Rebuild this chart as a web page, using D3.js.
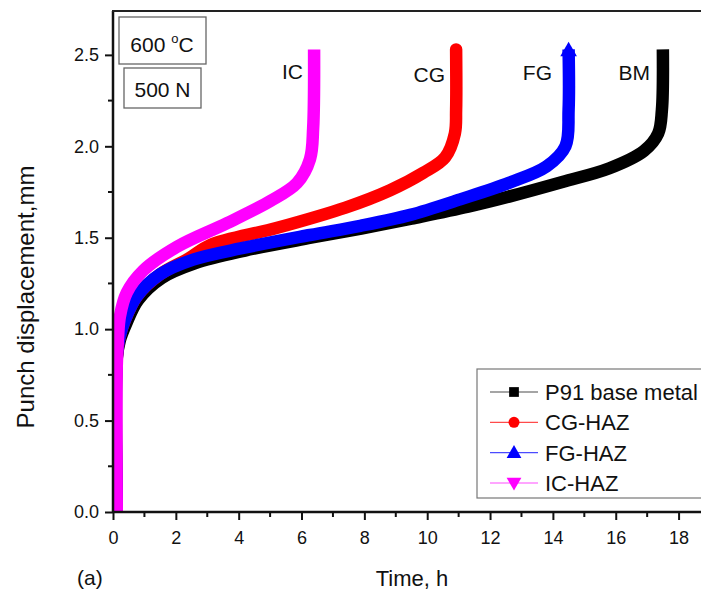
<!DOCTYPE html>
<html>
<head>
<meta charset="utf-8">
<script src="https://cdn.jsdelivr.net/npm/d3@7"></script>
<style>
  body { margin: 0; background: #fff; }
  text { font-family: "Liberation Sans", Arial, sans-serif; fill: #111; }
</style>
</head>
<body>
<svg width="701" height="590"></svg>
<script>
// series data (time in h, punch displacement in mm)
const bmTime = [0.12, 0.12, 0.22, 0.42, 0.8, 1.55, 2.6, 4.2, 6.3, 7.9, 9.5, 11.3, 12.6, 14.3, 15.8, 16.9, 17.35, 17.47, 17.5];
const bmDisp = [0.0, 0.84, 0.94, 1.03, 1.16, 1.28, 1.36, 1.43, 1.50, 1.55, 1.605, 1.67, 1.725, 1.805, 1.88, 1.975, 2.07, 2.2, 2.53];

const cgTime = [0.12, 0.12, 0.2, 0.38, 0.76, 1.5, 2.4, 3.1, 5.2, 7.4, 8.82, 9.87, 10.57, 10.88, 10.92, 10.92];
const cgDisp = [0.0, 0.85, 0.95, 1.05, 1.18, 1.30, 1.385, 1.46, 1.553, 1.665, 1.76, 1.855, 1.94, 2.07, 2.2, 2.53];

const fgTime = [0.12, 0.12, 0.2, 0.38, 0.76, 1.5, 2.55, 4.14, 6.27, 7.87, 9.46, 11.05, 12.6, 13.8, 14.4, 14.5, 14.5];
const fgDisp = [0.0, 0.85, 0.95, 1.05, 1.18, 1.30, 1.38, 1.444, 1.515, 1.565, 1.625, 1.71, 1.80, 1.89, 2.0, 2.2, 2.53];

const icTime = [0.12, 0.12, 0.16, 0.22, 0.44, 0.96, 2.03, 3.63, 5.0, 5.86, 6.27, 6.37, 6.4];
const icDisp = [0.0, 0.8, 0.95, 1.07, 1.20, 1.32, 1.45, 1.58, 1.70, 1.80, 1.93, 2.1, 2.53];

const seriesNames = ["P91 base metal", "CG-HAZ", "FG-HAZ", "IC-HAZ"];
const curveLabels = ["BM", "CG", "FG", "IC"];
const colors = ["#000000", "#ff0000", "#0000ff", "#ff00ff"];
const symbols = [d3.symbolSquare, d3.symbolCircle, d3.symbolTriangle, d3.symbolTriangle];

const xTicks = [0, 2, 4, 6, 8, 10, 12, 14, 16, 18];
const yTicks = [0.0, 0.5, 1.0, 1.5, 2.0, 2.5];

const series = [
  { name: seriesNames[0], t: bmTime, d: bmDisp },
  { name: seriesNames[1], t: cgTime, d: cgDisp },
  { name: seriesNames[2], t: fgTime, d: fgDisp },
  { name: seriesNames[3], t: icTime, d: icDisp }
];

const svg = d3.select("svg");

const x = d3.scaleLinear().domain([0, 19]).range([113, 710]);
const y = d3.scaleLinear().domain([0, 2.74]).range([512, 11]);

// clip to plot area
svg.append("clipPath").attr("id", "clip")
  .append("rect").attr("x", 113).attr("y", 11).attr("width", 597).attr("height", 501);

// curves
const line = d3.line()
  .x(p => x(p[0]))
  .y(p => y(p[1]))
  .curve(d3.curveCatmullRom.alpha(0.5));

const curves = svg.append("g").attr("clip-path", "url(#clip)");
series.forEach((s, i) => {
  const pts = s.t.map((t, j) => [t, s.d[j]]);
  curves.append("path")
    .attr("d", line(pts))
    .attr("fill", "none")
    .attr("stroke", colors[i])
    .attr("stroke-width", 12.5)
    .attr("stroke-linejoin", "round")
    .attr("stroke-linecap", i === 1 ? "round" : "butt");
  // blue curve ends in its triangle marker
  if (i === 2) {
    const last = pts[pts.length - 1];
    curves.append("path")
      .attr("d", d3.symbol().type(symbols[i]).size(120)())
      .attr("transform", `translate(${x(last[0])},${y(last[1]) + 2})`)
      .attr("fill", colors[i]);
  }
});

// axes
const xAxis = d3.axisBottom(x).tickValues(xTicks).tickFormat(d3.format("d"))
  .tickSize(8).tickPadding(11);
const gx = svg.append("g").attr("transform", "translate(0,512)").call(xAxis);
gx.select(".domain").remove();
gx.selectAll(".tick line").attr("stroke", "#111").attr("stroke-width", 2);
gx.selectAll("text").style("font-size", "18px");
gx.selectAll(".minor").data(d3.range(1, 19, 2)).enter().append("line")
  .attr("x1", d => x(d)).attr("x2", d => x(d)).attr("y1", 0).attr("y2", 5)
  .attr("stroke", "#111").attr("stroke-width", 2);

const yAxis = d3.axisLeft(y).tickValues(yTicks).tickFormat(d3.format(".1f"))
  .tickSize(8).tickPadding(6);
const gy = svg.append("g").attr("transform", "translate(113,0)").call(yAxis);
gy.select(".domain").remove();
gy.selectAll(".tick line").attr("stroke", "#111").attr("stroke-width", 2);
gy.selectAll("text").style("font-size", "18px");
gy.selectAll(".minor").data([0.25, 0.75, 1.25, 1.75, 2.25]).enter().append("line")
  .attr("x1", 0).attr("x2", -5).attr("y1", d => y(d)).attr("y2", d => y(d))
  .attr("stroke", "#111").attr("stroke-width", 2);

// frame lines
svg.append("line").attr("x1", 113).attr("x2", 701).attr("y1", 512).attr("y2", 512)
  .attr("stroke", "#111").attr("stroke-width", 2.5);
svg.append("line").attr("x1", 113).attr("x2", 113).attr("y1", 11).attr("y2", 513)
  .attr("stroke", "#111").attr("stroke-width", 2.5);
svg.append("line").attr("x1", 112).attr("x2", 701).attr("y1", 11).attr("y2", 11)
  .attr("stroke", "#222").attr("stroke-width", 2);

// axis titles
svg.append("text").attr("x", 412).attr("y", 586).attr("text-anchor", "middle")
  .style("font-size", "22px").text("Time, h");
svg.append("text").attr("transform", "translate(34,297) rotate(-90)").attr("text-anchor", "middle")
  .style("font-size", "24px").text("Punch displacement,mm");
svg.append("text").attr("x", 77).attr("y", 585).style("font-size", "21px").text("(a)");

// condition boxes
svg.append("rect").attr("x", 119).attr("y", 17).attr("width", 87).attr("height", 47)
  .attr("fill", "#fff").attr("stroke", "#666").attr("stroke-width", 1.3);
const t1 = svg.append("text").attr("x", 162).attr("y", 52).attr("text-anchor", "middle")
  .style("font-size", "21px");
t1.append("tspan").text("600 ");
t1.append("tspan").attr("dy", -9).style("font-size", "13px").text("o");
t1.append("tspan").attr("dy", 9).text("C");
svg.append("rect").attr("x", 124).attr("y", 68).attr("width", 77).attr("height", 40)
  .attr("fill", "#fff").attr("stroke", "#666").attr("stroke-width", 1.3);
svg.append("text").attr("x", 162.5).attr("y", 97).attr("text-anchor", "middle")
  .style("font-size", "21px").text("500 N");

// curve labels
const labelPos = [[650, 80], [445, 82], [552, 80], [303, 79]];
curveLabels.forEach((l, i) => {
  svg.append("text").attr("x", labelPos[i][0]).attr("y", labelPos[i][1])
    .attr("text-anchor", "end").style("font-size", "21px").text(l);
});

// legend
const lg = svg.append("g");
lg.append("rect").attr("x", 477).attr("y", 369).attr("width", 240).attr("height", 129)
  .attr("fill", "#fff").attr("stroke", "#777").attr("stroke-width", 1.2);
const legY = d3.scalePoint().domain(seriesNames).range([392, 483]);
series.forEach((s, i) => {
  const yy = legY(s.name);
  lg.append("line").attr("x1", 490).attr("x2", 538).attr("y1", yy).attr("y2", yy)
    .attr("stroke", colors[i]).attr("stroke-width", 1.2).attr("opacity", 0.7);
  lg.append("path")
    .attr("d", d3.symbol().type(symbols[i]).size(95)())
    .attr("transform", `translate(514,${yy + (i === 2 ? 1 : i === 3 ? -1 : 0)}) rotate(${i === 3 ? 180 : 0})`)
    .attr("fill", colors[i]);
  lg.append("text").attr("x", 545).attr("y", yy + 8).style("font-size", "22px").text(s.name);
});
</script>
</body>
</html>
